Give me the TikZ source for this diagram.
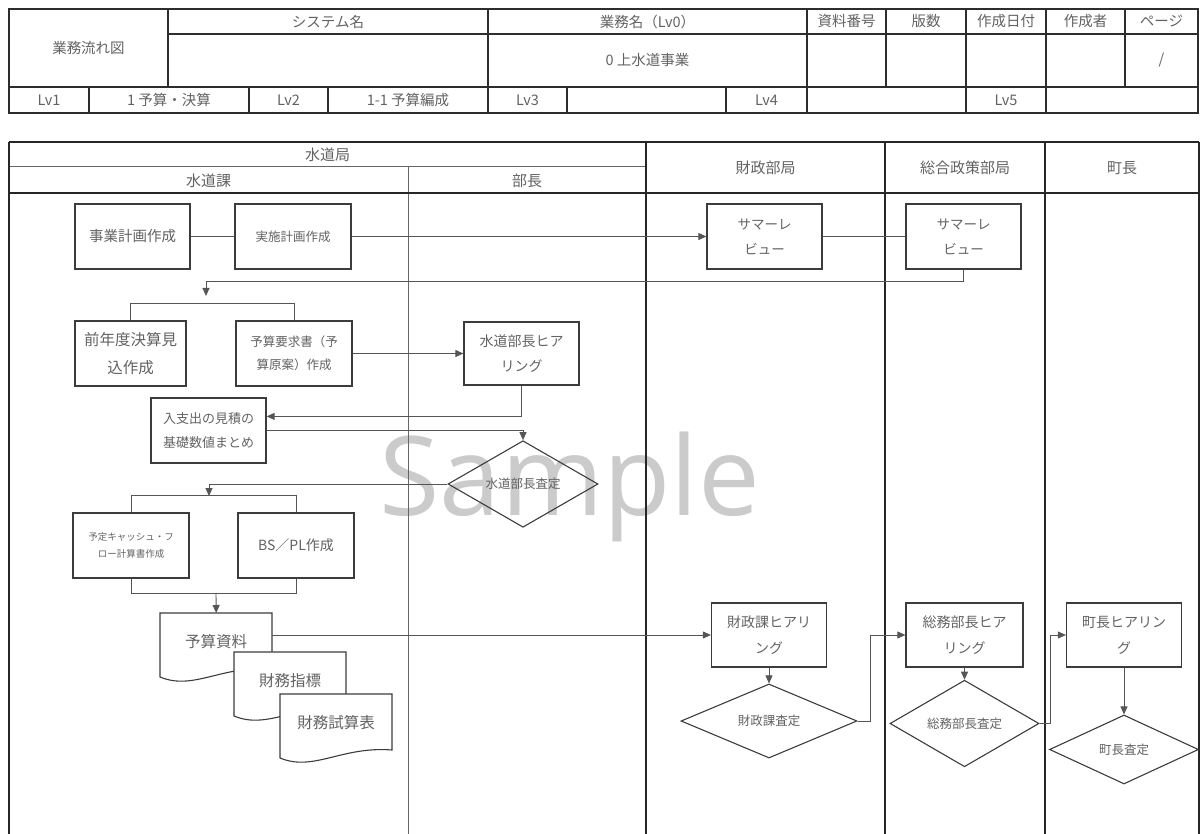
\documentclass[tikz,border=0pt]{standalone}
\usepackage{fontspec}
\setmainfont{Noto Sans CJK JP}
\newfontfamily\wmfont{Open Sans}
\usetikzlibrary{arrows.meta,shapes.geometric}
\definecolor{txt}{RGB}{98,98,98}
\definecolor{boxc}{RGB}{60,60,60}
\definecolor{connc}{RGB}{85,85,85}
\definecolor{tblc}{RGB}{45,45,45}
\definecolor{wmc}{RGB}{203,203,203}
\newcommand{\fsz}[2]{\fontsize{#1}{#2}\selectfont}
\newcommand{\docshape}[2]{\draw[docline,shift={(#1,#2)}] (0,0) -- (112,0) -- (112,56) .. controls (61.6,52) and (33.6,78) .. (0,64) -- cycle;}
\begin{document}
\begin{tikzpicture}[x=1pt,y=-1pt,
  tbl/.style={draw=tblc, line width=2pt},
  tblin/.style={draw=tblc, line width=1.6pt},
  tt/.style={text=txt, inner sep=0pt, font=\fsz{14.5}{16}},
  lt/.style={text=txt, inner sep=0pt, font=\fsz{15}{16}},
  lanethick/.style={draw=black!85, line width=2.6pt},
  lanethin/.style={draw=black!60, line width=1pt},
  proc/.style={draw=boxc, line width=1.2pt, text=txt, align=center, inner sep=0pt, minimum width=115pt, minimum height=65pt},
  dec/.style={diamond, draw=boxc, line width=1.1pt, text=txt, inner sep=0pt, minimum width=150pt, minimum height=69pt, font=\fsz{12.5}{14}},
  conn/.style={draw=connc, line width=0.9pt},
  arr/.style={conn, -{Triangle[length=8pt,width=7pt]}},
  docbox/.style={text=txt, inner sep=0pt, minimum width=112pt, minimum height=56pt, anchor=north west, font=\fsz{15.5}{17}},
  docline/.style={draw=boxc, line width=1.1pt, fill=white}
]
\useasboundingbox (0,0) rectangle (1200,834);
% watermark
\node[font=\wmfont\fsz{110}{110}, text=wmc, anchor=base, inner sep=0pt] (wm) at (570,515) {Sample};

% header table
\draw[tbl] (9,9) rectangle (1198,113);
\draw[tblin] (168,34) -- (1198,34);
\draw[tblin] (9,87) -- (1198,87);
\foreach \x in {168,488,807,886,966,1046,1125} \draw[tblin] (\x,9) -- (\x,87);
\foreach \x in {89,249,328,488,567,726,807,966,1046} \draw[tblin] (\x,87) -- (\x,113);
\node[tt] (tFlow) at (88.5,48) {業務流れ図};
\node[tt] (tSys) at (328,21.5) {システム名};
\node[tt] (tGyo) at (647.5,21.5) {業務名（Lv0）};
\node[tt] (tShiryo) at (846.5,21.5) {資料番号};
\node[tt] (tHan) at (926,21.5) {版数};
\node[tt] (tDate) at (1006,21.5) {作成日付};
\node[tt] (tAuth) at (1085.5,21.5) {作成者};
\node[tt] (tPage) at (1161.5,21.5) {ページ};
\node[tt] (tGyoV) at (647.5,60.5) {0 上水道事業};
\node[tt] (tPageV) at (1161.5,60.5) {/};
\node[tt] (tLv1) at (49,100) {Lv1};
\node[tt] (tLv1v) at (169,100) {1 予算・決算};
\node[tt] (tLv2) at (288.5,100) {Lv2};
\node[tt] (tLv2v) at (408,100) {1-1 予算編成};
\node[tt] (tLv3) at (527.5,100) {Lv3};
\node[tt] (tLv4) at (766.5,100) {Lv4};
\node[tt] (tLv5) at (1006,100) {Lv5};

% swimlanes
\draw[lanethin] (9,167) -- (646,167);
\draw[lanethin] (408,167) -- (408,834);
\draw[lanethick] (9,142) -- (1199,142);
\draw[lanethick] (9,193) -- (1199,193);
\foreach \x in {9,646,885,1045,1199} \draw[lanethick] (\x,142) -- (\x,834);
\node[lt] (hKyoku) at (327.5,155) {水道局};
\node[lt] (hKa) at (208.5,180.5) {水道課};
\node[lt] (hBucho) at (527,180.5) {部長};
\node[lt] (hZaisei) at (765.5,168) {財政部局};
\node[lt] (hSogo) at (965,168) {総合政策部局};
\node[lt] (hCho) at (1122,168) {町長};

% process boxes
\node[proc, font=\fsz{14.5}{16}] (jigyo) at (132.5,236.5) {事業計画作成};
\node[proc, font=\fsz{12.5}{14}, minimum width=116pt] (jisshi) at (293,236.5) {実施計画作成};
\node[proc, font=\fsz{13.5}{25}] (sr1) at (764.5,236.5) {サマーレ\\ビュー};
\node[proc, font=\fsz{13.5}{25}] (sr2) at (963.5,236.5) {サマーレ\\ビュー};
\node[proc, font=\fsz{15.5}{28}, minimum width=111pt] (zennen) at (130.5,353.5) {前年度決算見\\込作成};
\node[proc, font=\fsz{12.5}{23}, minimum width=116pt] (yosan) at (294,353.5) {予算要求書（予\\算原案）作成};
\node[proc, font=\fsz{14}{25}, minimum height=63pt] (suidoHear) at (521.5,353.5) {水道部長ヒア\\リング};
\node[proc, font=\fsz{13}{24}] (nyushi) at (208.5,430.5) {入支出の見積の\\基礎数値まとめ};
\node[dec] (suidoSatei) at (523,484) {水道部長査定};
\node[proc, font=\fsz{9.5}{17}, minimum width=116pt] (cash) at (131,545.5) {予定キャッシュ・フ\\ロー計算書作成};
\node[proc, font=\fsz{14}{16}, minimum width=116pt] (bspl) at (296,545.5) {BS／PL作成};

% documents
\docshape{160}{613}
\node[docbox] (doc1) at (160,613) {予算資料};
\docshape{234}{652}
\node[docbox] (doc2) at (234,652) {財務指標};
\docshape{280}{694}
\node[docbox] (doc3) at (280,694) {財務試算表};

% hearing / decisions
\node[proc, font=\fsz{14}{26}, minimum height=64pt] (zaiseiHear) at (769,635) {財政課ヒアリ\\ング};
\node[dec, minimum width=176pt, minimum height=68pt] (zaiseiSatei) at (769,721) {財政課査定};
\node[proc, font=\fsz{14}{26}, minimum height=64pt, minimum width=117pt] (somuHear) at (964.5,635) {総務部長ヒア\\リング};
\node[dec, minimum width=149pt] (somuSatei) at (964.5,723.5) {総務部長査定};
\node[proc, font=\fsz{14}{26}, minimum height=64pt] (choHear) at (1124,635) {町長ヒアリン\\グ};
\node[dec, minimum width=149pt] (choSatei) at (1124,749.5) {町長査定};

% connectors
\draw[conn] (jigyo.east) -- (jisshi.west);
\draw[arr] (jisshi.east) -- (sr1.west);
\draw[conn] (sr1.east) -- (sr2.west);
\coordinate (in1) at (206,296);
\draw[arr] (sr2.south) -- ++(0,12) -| (in1);
\draw[conn] (zennen.north) -- ++(0,-17) -| (yosan.north);
\draw[arr] (yosan.east) -- (suidoHear.west);
\draw[arr] (suidoHear.south) |- ([yshift=-19pt]nyushi.north east);
\draw[arr] (nyushi.east) -| (suidoSatei.north);
\coordinate (in2) at (209,496);
\draw[arr] (suidoSatei.west) -| (in2);
\draw[conn] (cash.north) -- ++(0,-17) -| (bspl.north);
\draw[conn] (cash.south) -- ++(0,15) -| (bspl.south);
\coordinate (out3) at (216,593);
\draw[arr] (out3) -- (doc1.north);
\draw[arr] (doc1.east |- zaiseiHear.west) -- (zaiseiHear.west);
\draw[arr] (zaiseiHear.south) -- (zaiseiSatei.north);
\draw[arr] (zaiseiSatei.east) -- ++(13,0) |- (somuHear.west);
\draw[arr] (somuHear.south) -- (somuSatei.north);
\draw[arr] (somuSatei.east) -- ++(11,0) |- (choHear.west);
\draw[arr] (choHear.south) -- (choSatei.north);
\end{tikzpicture}
\end{document}
